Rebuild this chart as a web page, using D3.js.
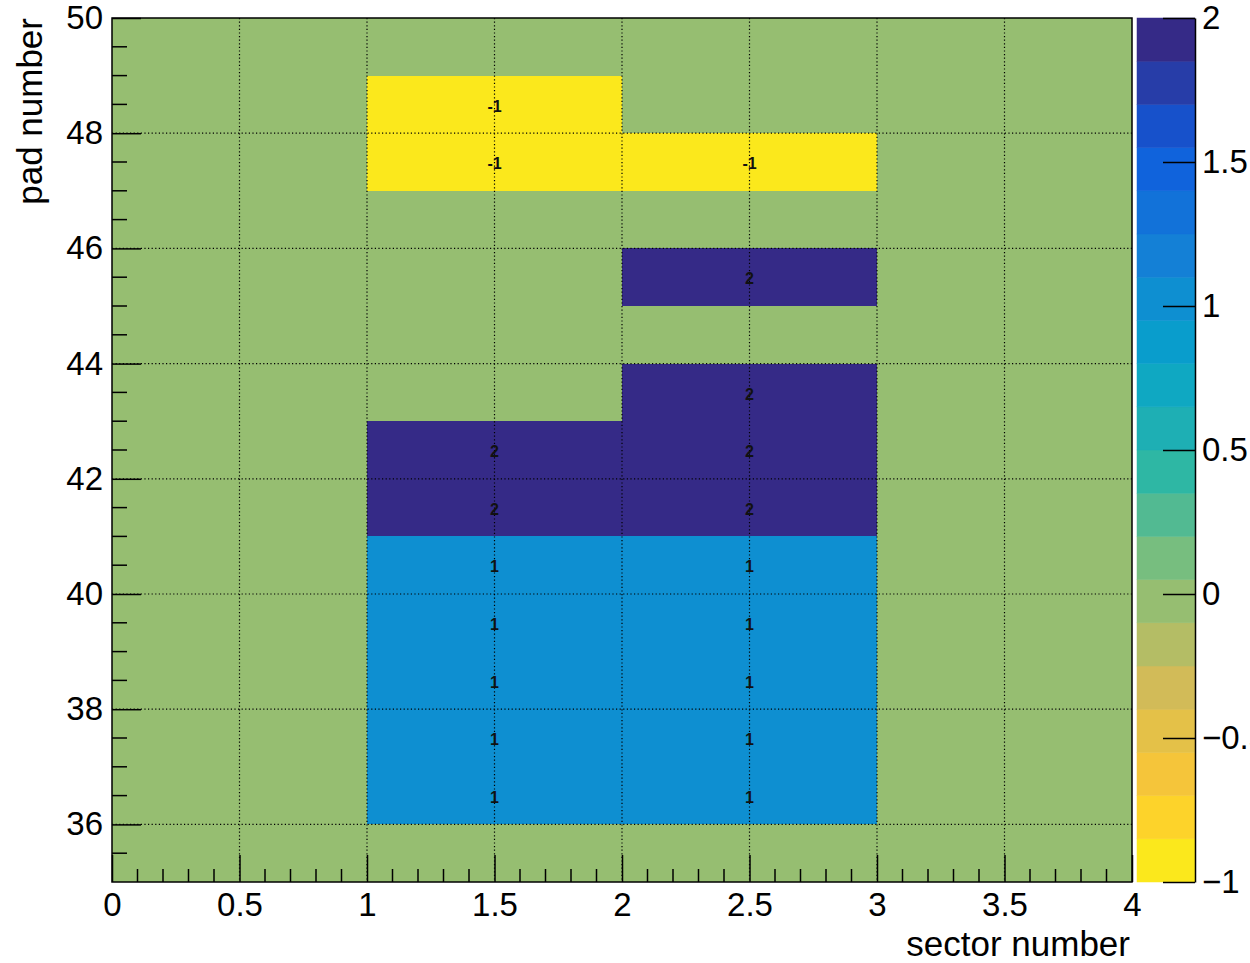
<!DOCTYPE html>
<html>
<head>
<meta charset="utf-8">
<script src="https://cdn.jsdelivr.net/npm/d3@7"></script>
<style>
  html, body { margin: 0; padding: 0; background: #fff; }
  svg { display: block; font-family: "Liberation Sans", Arial, Helvetica, sans-serif; }
</style>
</head>
<body>
<svg id="chart" width="1250" height="963"></svg>
<script>
// ---- data ----
const sectorBins = [0, 1, 2, 3];                 // lower edges of sector bins (width 1)
const padBins = [35, 36, 37, 38, 39, 40, 41, 42, 43, 44, 45, 46, 47, 48, 49]; // lower edges of pad bins
// values per sector bin, indexed by pad bin (35..49)
const sector0 = [0, 0, 0, 0, 0, 0, 0, 0, 0, 0, 0, 0, 0, 0, 0];
const sector1 = [0, 1, 1, 1, 1, 1, 2, 2, 0, 0, 0, 0, -1, -1, 0];
const sector2 = [0, 1, 1, 1, 1, 1, 2, 2, 2, 0, 2, 0, -1, 0, 0];
const sector3 = [0, 0, 0, 0, 0, 0, 0, 0, 0, 0, 0, 0, 0, 0, 0];
const xTicks = [0, 0.5, 1, 1.5, 2, 2.5, 3, 3.5, 4];
const xTickLabels = ["0", "0.5", "1", "1.5", "2", "2.5", "3", "3.5", "4"];
const yTicks = [36, 38, 40, 42, 44, 46, 48, 50];
const yTickLabels = ["36", "38", "40", "42", "44", "46", "48", "50"];
const zTicks = [-1, -0.5, 0, 0.5, 1, 1.5, 2];
const zTickLabels = ["\u22121", "\u22120.5", "0", "0.5", "1", "1.5", "2"];
const zMin = -1, zMax = 2, nContours = 20;

// ---- style: ROOT kBird palette (inverted) ----
const birdStops = [0, 0.125, 0.25, 0.375, 0.5, 0.625, 0.75, 0.875, 1];
const birdColors = ["rgb(53,42,135)", "rgb(15,92,221)", "rgb(20,129,214)", "rgb(6,164,202)",
  "rgb(46,183,164)", "rgb(135,191,119)", "rgb(209,187,89)", "rgb(254,200,50)", "rgb(249,251,14)"];

const table = sectorBins.map((s, i) => ({ sector: s, values: [sector0, sector1, sector2, sector3][i] }));
const cells = [];
table.forEach(col => col.values.forEach((v, j) => cells.push({ x0: col.sector, y0: padBins[j], v })));

const svg = d3.select("#chart");
const L = 112, R = 1132, T = 18, B = 882;
const x = d3.scaleLinear().domain([0, 4]).range([L, R]);
const y = d3.scaleLinear().domain([35, 50]).range([B, T]);
const z = d3.scaleLinear().domain([zMin, zMax]).range([B, T]);
const bird = d3.scaleLinear().domain(birdStops).range(birdColors).interpolate(d3.interpolateRgb);

function bandColor(k) {
  const idx = Math.floor((k + 0.99) * 255 / nContours);
  return bird(1 - idx / 254);
}
function colorOf(v) {
  let k = Math.floor((v - zMin) / ((zMax - zMin) / nContours) + 1e-9);
  k = Math.max(0, Math.min(nContours - 1, k));
  return bandColor(k);
}

// cells
svg.append("g").selectAll("rect").data(cells).join("rect")
  .attr("x", d => x(d.x0))
  .attr("y", d => y(d.y0 + 1))
  .attr("width", d => x(d.x0 + 1) - x(d.x0))
  .attr("height", d => y(d.y0) - y(d.y0 + 1))
  .attr("fill", d => colorOf(d.v))
  .attr("shape-rendering", "crispEdges");

// grid
const grid = svg.append("g").attr("stroke", "#000").attr("stroke-width", 1.2)
  .attr("stroke-dasharray", "1.2,2.4");
xTicks.filter(t => t > 0 && t < 4).forEach(t => {
  grid.append("line").attr("x1", x(t)).attr("x2", x(t)).attr("y1", T).attr("y2", B);
});
yTicks.filter(t => t > 35 && t < 50).forEach(t => {
  grid.append("line").attr("x1", L).attr("x2", R).attr("y1", y(t)).attr("y2", y(t));
});

// cell text
svg.append("g").selectAll("text").data(cells.filter(d => d.v !== 0)).join("text")
  .attr("x", d => x(d.x0 + 0.5))
  .attr("y", d => y(d.y0 + 0.5))
  .attr("dy", "0.45em")
  .attr("text-anchor", "middle")
  .attr("font-size", 16)
  .attr("font-weight", "bold")
  .attr("fill", "#111")
  .text(d => d3.format("d")(d.v).replace("\u2212", "-"));

// axes (ticks inside)
const xAxis = d3.axisBottom(x).tickValues(xTicks).tickFormat((d, i) => xTickLabels[i])
  .tickSizeInner(-27).tickSizeOuter(0).tickPadding(11);
const gx = svg.append("g").attr("transform", `translate(0,${B})`).call(xAxis);
const xMinor = d3.range(0, 4.0001, 0.1).filter(t => Math.abs(t * 2 - Math.round(t * 2)) > 1e-6);
gx.selectAll(".minor").data(xMinor).join("line").attr("class", "minor")
  .attr("x1", d => x(d)).attr("x2", d => x(d)).attr("y1", 0).attr("y2", -13).attr("stroke", "#000");

const yAxis = d3.axisLeft(y).tickValues(yTicks).tickFormat((d, i) => yTickLabels[i])
  .tickSizeInner(-29).tickSizeOuter(0).tickPadding(9);
const gy = svg.append("g").attr("transform", `translate(${L},0)`).call(yAxis);
const yMinor = d3.range(35, 50.001, 0.5).filter(t => !yTicks.includes(t) && t !== 35);
gy.selectAll(".minor").data(yMinor).join("line").attr("class", "minor")
  .attr("x1", 0).attr("x2", 15).attr("y1", d => y(d)).attr("y2", d => y(d)).attr("stroke", "#000");

[gx, gy].forEach(g => {
  g.select(".domain").remove();
  g.selectAll("text").attr("font-size", 33).attr("fill", "#000")
    .attr("font-family", "'Liberation Sans', Arial, sans-serif");
  g.selectAll("line").attr("stroke", "#000").attr("stroke-width", 1.5);
});

// frame
svg.append("rect").attr("x", L).attr("y", T).attr("width", R - L).attr("height", B - T)
  .attr("fill", "none").attr("stroke", "#000").attr("stroke-width", 1.5);

// axis titles
svg.append("text").attr("x", R - 2).attr("y", 956).attr("text-anchor", "end")
  .attr("font-size", 35).attr("fill", "#000").text("sector number");
svg.append("text").attr("transform", `translate(42,${T}) rotate(-90)`).attr("text-anchor", "end")
  .attr("font-size", 35).attr("fill", "#000").text("pad number");

// palette
const PL = 1137, PR = 1195;
const bands = d3.range(nContours);
const step = (zMax - zMin) / nContours;
svg.append("g").selectAll("rect").data(bands).join("rect")
  .attr("x", PL).attr("width", PR - PL)
  .attr("y", k => z(zMin + (k + 1) * step))
  .attr("height", k => z(zMin + k * step) - z(zMin + (k + 1) * step))
  .attr("fill", k => bandColor(k))
  .attr("stroke", k => bandColor(k)).attr("stroke-width", 0.5);

const zAxis = d3.axisRight(z).tickValues(zTicks).tickFormat((d, i) => zTickLabels[i])
  .tickSizeInner(-32).tickSizeOuter(0).tickPadding(8);
const gz = svg.append("g").attr("transform", `translate(${PR},0)`).call(zAxis);
gz.selectAll("text").attr("font-size", 33).attr("fill", "#000");
gz.selectAll("line").attr("stroke", "#000").attr("stroke-width", 1.5);
gz.select(".domain").attr("stroke", "#000").attr("stroke-width", 1.5);
gz.selectAll(".tick text").attr("x", 7);
</script>
</body>
</html>
